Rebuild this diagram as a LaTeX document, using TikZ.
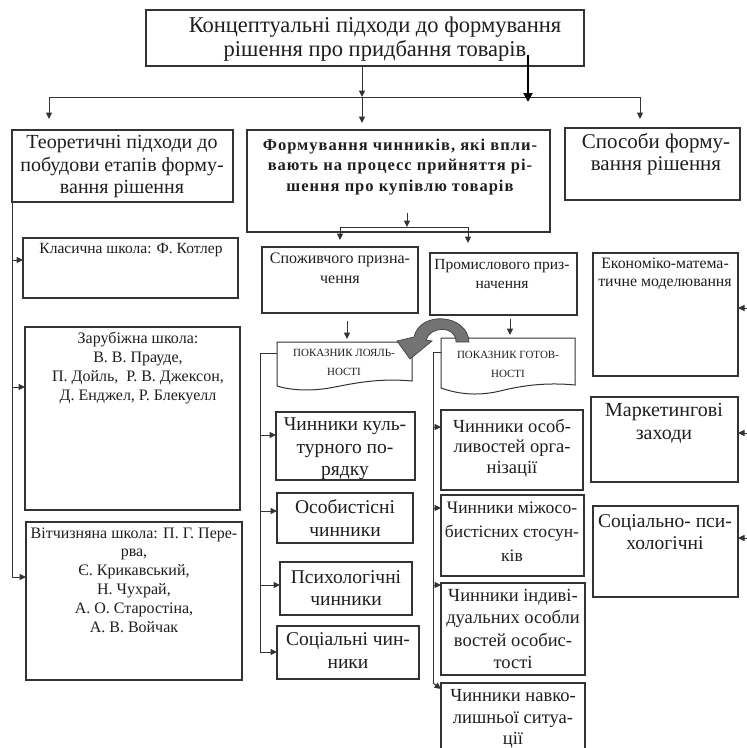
\documentclass[tikz,border=0pt]{standalone}
\usepackage{fontspec}
\setmainfont{Liberation Serif}
\usetikzlibrary{arrows.meta,calc}
\definecolor{linec}{HTML}{333333}
\definecolor{textc}{HTML}{1E1E1E}
\newcommand{\mybox}[5]{\node[boxst, anchor=north west, minimum width={(#4-#2)*1pt}, minimum height={(#5-#3)*1pt}] (#1) at (#2,#3) {};}
\newcommand{\fs}[2]{\fontsize{#1}{#2}\selectfont}
\begin{document}
\begin{tikzpicture}[x=1pt,y=-1pt,
  boxst/.style={draw=linec, line width=1.1pt, inner sep=0pt, outer sep=0pt, fill=white},
  txt/.style={align=center, inner sep=0pt, text=textc},
  ln/.style={draw=linec, line width=1pt},
  arr/.style={draw=linec, line width=1pt, -{Triangle[length=6.5pt,width=6pt]}},
  bigarr/.style={draw=black, line width=2pt, -{Triangle[length=9pt,width=9pt]}}]
\clip (0,0) rectangle (747,748);
\fill[white] (0,0) rectangle (747,748);

% top
\mybox{top}{146}{10}{584}{66}
\node[txt, font=\fs{22.5}{24.5}] (toptxt) at (375,39) {Концептуальні підходи до формування\\рішення про придбання товарів};

% level 1
\mybox{L0}{12}{130}{233}{202}
\node[txt, font=\fs{20}{22.5}] (L0t) at (122,167) {Теоретичні підходи до\\побудови етапів форму-\\вання рішення};
\mybox{M0}{247}{130}{550}{232}
\node[txt, font={\fs{16.5}{20.5}\bfseries\addfontfeature{LetterSpace=6}}] (M0t) at (400,167) {Формування чинників, які впли-\\вають на процесс прийняття рі-\\шення про купівлю товарів};
\mybox{R0}{565}{128}{740}{200}
\node[txt, font=\fs{21}{22.5}] (R0t) at (656,154) {Способи форму-\\вання рішення};

% top connectors
\coordinate (hl) at (49,97);
\coordinate (hm) at (362,97);
\coordinate (hr) at (640,97);
\draw[ln] (hl) -- (hr);
\draw[arr] (top.south -| hm) -- (hm);
\draw[arr] (hl) -- ++(0,22);
\draw[arr] (hm) -- ++(0,26);
\draw[arr] (hr) -- ++(0,22);
\coordinate (tk1) at (528,55);
\coordinate (tk2) at (528,102);
\draw[bigarr] (tk1) -- (tk2);

% second level in middle
\coordinate (sm) at (407,227);
\coordinate (sl) at (340,227);
\coordinate (sr) at (468,227);
\draw[arr] (407,213) -- (sm);
\draw[ln] (sl) -- (sr);
\mybox{Sp}{262}{247}{418}{313}
\node[txt, font=\fs{16}{20}] (Spt) at (340,268) {Споживчого призна-\\чення};
\mybox{Pr}{430}{253}{577}{315}
\node[txt, font=\fs{15.5}{18.5}] (Prt) at (502,274) {Промислового приз-\\начення};
\draw[arr] (sl) -- ++(0,13);
\draw[arr] (sr) -- ++(0,16);

% document shapes
\draw[ln, fill=white] (277,342) coordinate (DLnw) -- (412,342) -- (412,381)
  .. controls (380,378) and (355,383) .. (335,387)
  .. controls (310,392) and (290,390) .. (277,386) -- cycle;
\node[txt, font=\fs{11}{19}] (DLt) at (344,362) {ПОКАЗНИК ЛОЯЛЬ-\\НОСТІ};
\draw[ln, fill=white] (441,338) coordinate (DRnw) -- (575,338) -- (575,385)
  .. controls (545,382) and (520,386) .. (500,391)
  .. controls (475,397) and (455,393) .. (441,388) -- cycle;
\node[txt, font=\fs{11}{19}] (DRt) at (508,364) {ПОКАЗНИК ГОТОВ-\\НОСТІ};
\draw[arr] (Sp.south -| 347,0) ++(0,8) -- (347,339);
\draw[arr] (Pr.south -| 510,0) ++(0,4) -- (510,335);

% curved gray arrow
\draw[draw=black!75, fill=black!55, line width=0.7pt]
  (469,342) .. controls (468,314) and (420,310) .. (414,337)
  -- (397,341) -- (410,359) -- (432,341) -- (426,340)
  .. controls (430,326) and (456,325) .. (456,342) -- cycle;

% left column
\mybox{K}{23}{238}{238}{298}
\node[txt, font=\fs{15.5}{18}] (Kt) at (131,250) {Класична школа: Ф. Котлер};
\mybox{Z}{25}{327}{240}{510}
\node[txt, font=\fs{16}{19}] (Zt) at (138,368) {Зарубіжна школа:\\В. В. Прауде,\\П. Дойль,\ \ Р. В. Джексон,\\Д. Енджел, Р. Блекуелл};
\mybox{V}{26}{522}{242}{680}
\node[txt, font=\fs{16}{18.8}] (Vt) at (134,580) {Вітчизняна школа: П. Г. Пере-\\рва,\\Є. Крикавський,\\Н. Чухрай,\\А. О. Старостіна,\\А. В. Войчак};
\coordinate (lv1) at (12,202);
\coordinate (lv2) at (12,577);
\draw[ln] (lv1) -- (lv2);
\draw[arr] (12,260) -- (K.west |- 12,260);
\draw[arr] (12,387) -- (Z.west |- 12,387);
\draw[arr] (lv2) -- (V.west |- lv2);

% middle-left column
\mybox{C1}{276}{412}{415}{480}
\node[txt, font=\fs{19.5}{22.5}] (C1t) at (345,449) {Чинники куль-\\турного по-\\рядку};
\mybox{C2}{277}{493}{413}{543}
\node[txt, font=\fs{19.5}{23}] (C2t) at (345,518) {Особистісні\\чинники};
\mybox{C3}{280}{562}{412}{615}
\node[txt, font=\fs{19.5}{22}] (C3t) at (346,588) {Психологічні\\чинники};
\mybox{C4}{277}{626}{419}{679}
\node[txt, font=\fs{19.5}{23}] (C4t) at (348,651) {Соціальні чин-\\ники};
\coordinate (mv1) at (260,353);
\coordinate (mv2) at (260,652);
\draw[ln] (DLnw |- mv1) -- (mv1) -- (mv2);
\draw[arr] (260,435) -- (C1.west |- 260,435);
\draw[arr] (260,511) -- (C2.west |- 260,511);
\draw[arr] (260,585) -- (C3.west |- 260,585);
\draw[arr] (mv2) -- (C4.west |- mv2);

% middle-right column
\mybox{D1}{441}{410}{583}{490}
\node[txt, font=\fs{18.5}{20.5}] (D1t) at (512,448) {Чинники особ-\\ливостей орга-\\нізації};
\mybox{D2}{441}{495}{584}{576}
\node[txt, font=\fs{17.5}{24}] (D2t) at (512,532) {Чинники міжосо-\\бистісних стосун-\\ків};
\mybox{D3}{441}{583}{585}{675}
\node[txt, font=\fs{18.5}{22.5}] (D3t) at (513,629) {Чинники індиві-\\дуальних особли\\востей особис-\\тості};
\mybox{D4}{441}{683}{585}{770}
\node[txt, font=\fs{18.5}{21.5}] (D4t) at (513,719) {Чинники навко-\\лишньої ситуа-\\ції};
\coordinate (rv1) at (433,352);
\coordinate (rv2) at (433,683);
\draw[ln] (DRnw |- rv1) -- (rv1) -- (rv2);
\draw[arr] (433,427) -- (D1.west |- 433,427);
\draw[arr] (433,508) -- (D2.west |- 433,508);
\draw[arr] (433,585) -- (D3.west |- 433,585);
\draw[arr] (rv2) -- (D4.west |- 433,689);

% right column
\mybox{E}{593}{253}{738}{376}
\node[txt, font=\fs{15.8}{18.5}] (Et) at (665,274) {Економіко-матема-\\тичне моделювання};
\mybox{Mk}{591}{397}{738}{482}
\node[txt, font=\fs{20}{23}] (Mkt) at (664,423) {Маркетингові\\заходи};
\mybox{S}{593}{506}{738}{597}
\node[txt, font=\fs{19.5}{22}] (St) at (665,532) {Соціально- пси-\\хологічні};
\coordinate (re1) at (747,308);
\coordinate (re2) at (747,433);
\coordinate (re3) at (747,538);
\draw[arr] (re1) -- (E.east |- re1);
\draw[arr] (re2) -- (Mk.east |- re2);
\draw[arr] (re3) -- (S.east |- re3);
\end{tikzpicture}
\end{document}
